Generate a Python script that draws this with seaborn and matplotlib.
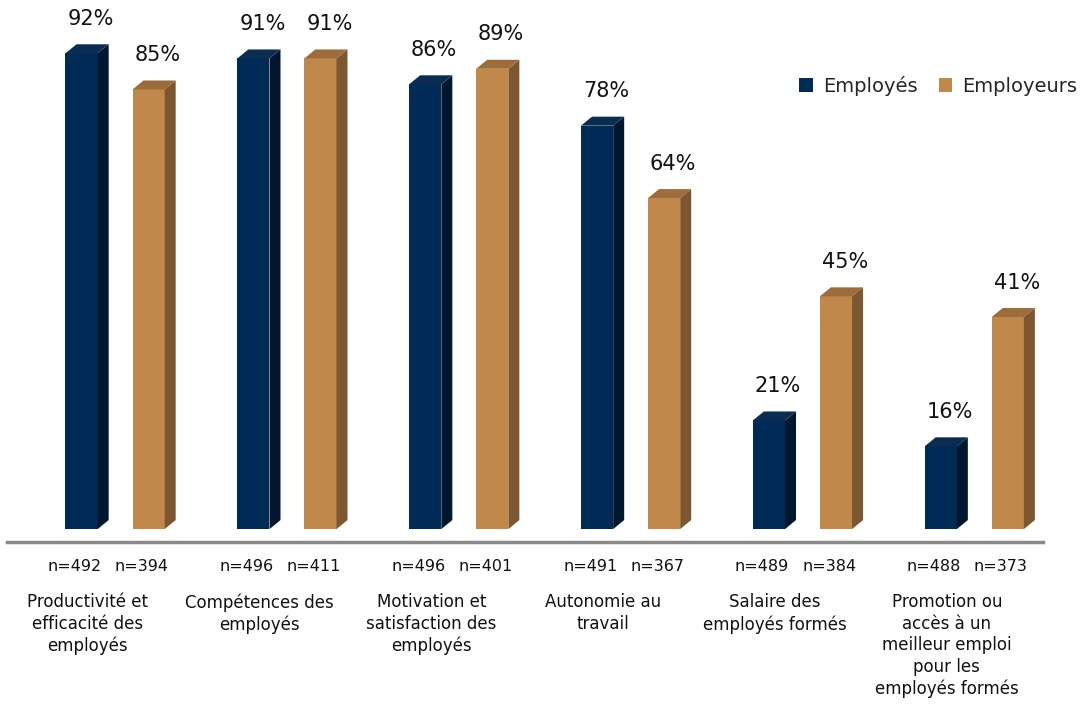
import matplotlib
matplotlib.use("Agg")
import matplotlib.pyplot as plt
from matplotlib.patches import Polygon
from matplotlib.transforms import blended_transform_factory
import seaborn as sns
import pandas as pd

categories = ["Productivité et\nefficacité des\nemployés",
              "Compétences des\nemployés",
              "Motivation et\nsatisfaction des\nemployés",
              "Autonomie au\ntravail",
              "Salaire des\nemployés formés",
              "Promotion ou\naccès à un\nmeilleur emploi\npour les\nemployés formés"]
series = ["Employés", "Employeurs"]
employes = [92, 91, 86, 78, 21, 16]
employeurs = [85, 91, 89, 64, 45, 41]
n_employes = [492, 496, 496, 491, 489, 488]
n_employeurs = [394, 411, 401, 367, 384, 373]

front = {"Employés": "#002B56", "Employeurs": "#C0884B"}
side = {"Employés": "#00182F", "Employeurs": "#7C5730"}
top = {"Employés": "#0B2D52", "Employeurs": "#9C6D3B"}

df = pd.DataFrame({
    "cat": categories * 2,
    "serie": [series[0]] * 6 + [series[1]] * 6,
    "val": employes + employeurs,
    "n": n_employes + n_employeurs,
})

sns.set_style("white")
plt.rcParams["font.family"] = ["DejaVu Sans"]

fig = plt.figure(figsize=(10.86, 7.08), dpi=100)
ax = fig.add_axes([7 / 1086, 1 - 542 / 708, (1043 - 7) / 1086, 542 / 708])

sns.barplot(data=df, x="cat", y="val", hue="serie", hue_order=series,
            palette=front, width=0.78, gap=0.52, ax=ax, saturation=1,
            linewidth=0, legend=True)

ax.set_xlim(-0.629, 5.40)
ax.set_ylim(-2.5, 102.3)

dx, dy = 0.064, 1.74
trans = blended_transform_factory(ax.transData, ax.transAxes)
bars = [p for p in ax.patches if p.get_height() > 0]
for i, p in enumerate(bars):
    s = series[i // 6]
    x0, w, h = p.get_x(), p.get_width(), p.get_height()
    x1 = x0 + w
    ax.add_patch(Polygon([(x1, 0), (x1 + dx, dy), (x1 + dx, h + dy), (x1, h)],
                         closed=True, facecolor=side[s], edgecolor="none", zorder=2))
    ax.add_patch(Polygon([(x0, h), (x0 + dx, h + dy), (x1 + dx, h + dy), (x1, h)],
                         closed=True, facecolor=top[s], edgecolor="none", zorder=2))
    ax.text(x0 + w / 2 + dx / 2 + 0.02, h + dy + 3.0, f"{h:.0f}%",
            ha="center", va="bottom", fontsize=15, color="#111111")
    nval = df["n"].iloc[i]
    ax.text(x0 + w / 2 - 0.04, -0.046, f"n={nval}", transform=trans,
            ha="center", va="center", fontsize=11.5, color="#111111")

for j, c in enumerate(categories):
    ax.text(j - 0.16, -0.095, c, transform=trans, ha="center", va="top",
            fontsize=12, color="#111111", linespacing=1.25)

ax.set_xticks([])
ax.set_yticks([])
ax.set_xlabel("")
ax.set_ylabel("")
for sp in ["top", "right", "left"]:
    ax.spines[sp].set_visible(False)
ax.spines["bottom"].set_color("#8A8A8A")
ax.spines["bottom"].set_linewidth(2.5)

handles, labels = ax.get_legend_handles_labels()
ax.legend_.remove()
fig.legend(handles, labels, loc="center", bbox_to_anchor=(0.864, 0.879),
           ncol=2, frameon=False, fontsize=14, handlelength=0.7,
           handleheight=0.7, handletextpad=0.5, columnspacing=1.1)

fig.savefig("out.png", dpi=100)
